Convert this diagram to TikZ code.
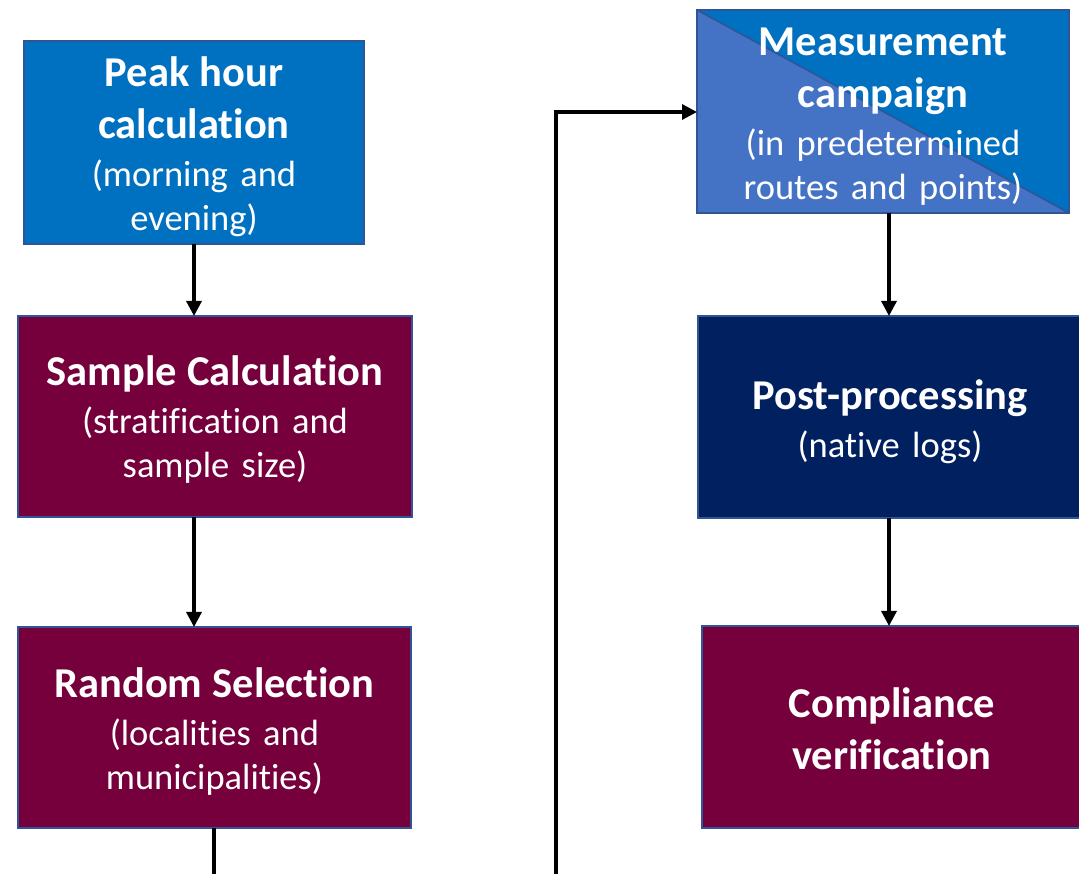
\documentclass[tikz,border=0pt]{standalone}
\usepackage{fontspec}
\setmainfont[Ligatures={NoCommon}]{Carlito}
\usetikzlibrary{arrows.meta}
\definecolor{boxblue}{HTML}{0070C0}
\definecolor{lightblue}{HTML}{4472C4}
\definecolor{navy}{HTML}{002060}
\definecolor{wine}{HTML}{75003B}
\definecolor{edge}{HTML}{2F5597}
\newcommand{\ttl}{\fontsize{42.5}{52}\selectfont\bfseries\spaceskip=0.24em\relax}
\newcommand{\sub}{\par\vskip4pt\fontsize{36.5}{44}\selectfont\spaceskip=0.34em\relax}
\tikzset{
  x=1pt, y=1pt,
  flowbox/.style={draw=edge, line width=1.5pt, inner sep=0pt, outer sep=0pt},
  boxtext/.style={text=white, align=center, text width=380pt, inner sep=0pt},
  link/.style={line width=3.2pt, -{Triangle[length=15pt,width=15pt]}},
  plain/.style={line width=3.2pt}
}
\begin{document}
\begin{tikzpicture}
\useasboundingbox (0,0) rectangle (1079,873);
% left column
\node[flowbox, fill=boxblue, minimum width=340pt, minimum height=203pt] (peak) at (194,730.5) {};
\node[boxtext] (peakT) at ([yshift=-4pt]peak.center)
  {{\ttl Peak hour\\calculation\par}{\sub (morning and\\evening)\par}};
\node[flowbox, fill=wine, minimum width=394pt, minimum height=201pt] (sample) at (215,456.5) {};
\node[boxtext] (sampleT) at ([yshift=-3pt]sample.center)
  {{\ttl Sample Calculation\par}{\sub (stratification and\\sample size)\par}};
\node[flowbox, fill=wine, minimum width=393pt, minimum height=201pt] (random) at (214.5,145.5) {};
\node[boxtext] (randomT) at ([yshift=-4pt]random.center)
  {{\ttl Random Selection\par}{\sub (localities and\\municipalities)\par}};
% right column
\node[flowbox, fill=boxblue, minimum width=372pt, minimum height=203pt,
  path picture={
    \fill[lightblue] (path picture bounding box.north west) -- (path picture bounding box.south east)
      -- (path picture bounding box.south west) -- cycle;
    \draw[edge, line width=1.5pt] (path picture bounding box.north west) -- (path picture bounding box.south east);
  }] (meas) at (883,761.5) {};
\node[boxtext] (measT) at ([yshift=-5pt]meas.center)
  {{\ttl Measurement\\campaign\par}{\sub (in predetermined\\routes and points)\par}};
\node[flowbox, fill=navy, minimum width=384pt, minimum height=202pt] (post) at (890,456) {};
\node[boxtext] (postT) at ([yshift=-5pt]post.center)
  {{\ttl Post-processing\par}{\sub (native logs)\par}};
\node[flowbox, fill=wine, minimum width=380pt, minimum height=202pt] (comp) at (892,146) {};
\node[boxtext] (compT) at ([yshift=-2pt]comp.center)
  {{\ttl Compliance\\verification\par}};
% loose ends running off the bottom
\coordinate (outA) at (214,-5);
\coordinate (outB) at (556,-5);
\coordinate (turn) at (556,761);
% connectors
\draw[link] (peak.south -| 194,0) -- (sample.north -| 194,0);
\draw[link] (sample.south -| 194,0) -- (random.north -| 194,0);
\draw[plain] (random.south -| outA) -- (outA);
\draw[link] (outB) -- (turn) -- (meas.west |- turn);
\draw[link] (meas.south -| 889,0) -- (post.north -| 889,0);
\draw[link] (post.south -| 889,0) -- (comp.north -| 889,0);
\end{tikzpicture}
\end{document}
